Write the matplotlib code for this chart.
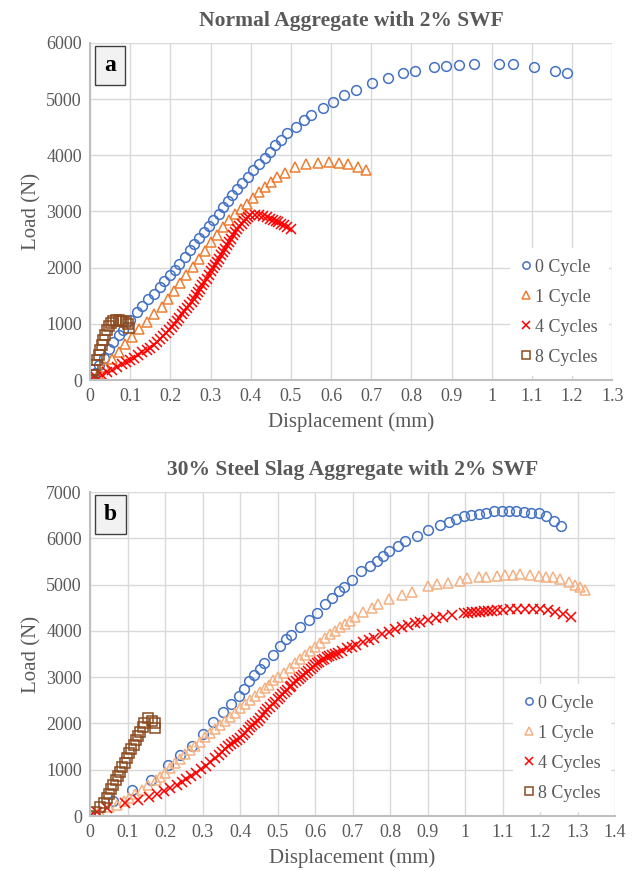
import matplotlib.pyplot as plt
import numpy as np

plt.rcParams["font.family"] = ["Liberation Serif", "DejaVu Serif"]

# ---------------- data: panel (a) Normal aggregate ----------------
a_x0 = [0, 0.012, 0.023, 0.035, 0.046, 0.058, 0.071, 0.083, 0.1, 0.116, 0.129, 0.145,
        0.158, 0.173, 0.185, 0.199, 0.212, 0.222, 0.237, 0.249, 0.259, 0.271, 0.284,
        0.296, 0.307, 0.320, 0.332, 0.343, 0.354, 0.365, 0.379, 0.392, 0.405, 0.421,
        0.436, 0.448, 0.461, 0.476, 0.490, 0.513, 0.533, 0.550, 0.579, 0.606, 0.631,
        0.662, 0.703, 0.741, 0.779, 0.809, 0.857, 0.886, 0.919, 0.956, 1.017, 1.054,
        1.106, 1.157, 1.187]
a_y0 = [0, 130, 260, 400, 560, 681, 800, 889, 1066, 1214, 1315, 1434, 1540, 1659, 1765,
        1866, 1967, 2073, 2192, 2310, 2429, 2536, 2636, 2737, 2855, 2962, 3081, 3187,
        3300, 3395, 3507, 3614, 3732, 3851, 3957, 4058, 4177, 4277, 4396, 4502, 4621,
        4722, 4840, 4950, 5065, 5168, 5283, 5376, 5471, 5494, 5565, 5589, 5607, 5625,
        5618, 5618, 5571, 5506, 5471]

a_x1 = [0, 0.02, 0.037, 0.055, 0.071, 0.088, 0.104, 0.122, 0.141, 0.16, 0.178, 0.195,
        0.21, 0.225, 0.24, 0.255, 0.27, 0.285, 0.30, 0.315, 0.33, 0.345, 0.36, 0.375,
        0.39, 0.405, 0.42, 0.435, 0.45, 0.465, 0.485, 0.51, 0.538, 0.568, 0.596, 0.621,
        0.643, 0.666, 0.686]
a_y1 = [0, 100, 237, 370, 503, 640, 769, 900, 1036, 1170, 1302, 1450, 1590, 1730, 1870,
        2010, 2150, 2300, 2450, 2580, 2720, 2850, 2960, 3040, 3140, 3240, 3340, 3430,
        3520, 3610, 3690, 3790, 3840, 3870, 3875, 3870, 3850, 3800, 3730]

a_x4 = [0, 0.015, 0.029, 0.042, 0.054, 0.067, 0.079, 0.09, 0.1, 0.11, 0.12, 0.13, 0.141,
        0.15, 0.158, 0.166, 0.174, 0.182, 0.189, 0.196, 0.203, 0.21, 0.216, 0.222,
        0.228, 0.235, 0.241, 0.247, 0.253, 0.259, 0.264, 0.269, 0.274, 0.279, 0.284,
        0.29, 0.295, 0.30, 0.305, 0.31, 0.315, 0.32, 0.325, 0.331, 0.336, 0.342, 0.347,
        0.352, 0.357, 0.362, 0.367, 0.372, 0.378, 0.383, 0.388, 0.393, 0.398, 0.41,
        0.421, 0.43, 0.44, 0.448, 0.455, 0.462, 0.469, 0.476, 0.483, 0.491, 0.5]
a_y4 = [0, 45, 89, 135, 178, 230, 278, 318, 355, 400, 444, 490, 533, 578, 622, 672, 723,
        776, 829, 888, 948, 1000, 1054, 1110, 1167, 1220, 1274, 1333, 1392, 1450, 1511,
        1570, 1629, 1690, 1748, 1807, 1866, 1934, 2002, 2052, 2103, 2162, 2222, 2281,
        2340, 2400, 2459, 2518, 2577, 2630, 2684, 2734, 2784, 2830, 2873, 2905, 2932,
        2940, 2932, 2920, 2903, 2875, 2844, 2830, 2814, 2785, 2755, 2725, 2695]

a_x8 = [0, 0.004, 0.008, 0.012, 0.017, 0.021, 0.025, 0.029, 0.033, 0.037, 0.042, 0.046,
        0.052, 0.058, 0.064, 0.071, 0.077, 0.083, 0.089, 0.095, 0.098]
a_y8 = [0, 89, 178, 266, 355, 444, 533, 622, 710, 799, 888, 959, 1018, 1045, 1060, 1066,
        1058, 1045, 1025, 990, 930]

# ---------------- data: panel (b) 30% steel slag ----------------
b_x0 = [0, 0.06, 0.111, 0.162, 0.209, 0.240, 0.273, 0.300, 0.327, 0.354, 0.376, 0.396,
        0.411, 0.425, 0.438, 0.452, 0.465, 0.487, 0.507, 0.522, 0.535, 0.560, 0.583,
        0.604, 0.627, 0.646, 0.664, 0.677, 0.698, 0.723, 0.747, 0.766, 0.782, 0.797,
        0.820, 0.840, 0.871, 0.902, 0.932, 0.956, 0.976, 0.996, 1.015, 1.036, 1.056,
        1.077, 1.098, 1.117, 1.136, 1.156, 1.176, 1.196, 1.216, 1.236, 1.255]
b_y0 = [0, 331, 562, 778, 1102, 1318, 1519, 1764, 2037, 2253, 2425, 2585, 2743, 2910,
        3045, 3168, 3297, 3477, 3672, 3816, 3909, 4075, 4233, 4392, 4572, 4716, 4852,
        4953, 5097, 5292, 5400, 5515, 5623, 5724, 5832, 5940, 6048, 6170, 6278, 6357,
        6415, 6480, 6512, 6526, 6555, 6588, 6594, 6588, 6580, 6573, 6551, 6537, 6480,
        6379, 6271]

b_x1 = [0, 0.025, 0.05, 0.071, 0.09, 0.105, 0.12, 0.138, 0.155, 0.175, 0.187, 0.2, 0.213,
        0.227, 0.24, 0.253, 0.267, 0.28, 0.293, 0.307, 0.32, 0.333, 0.347, 0.36, 0.373,
        0.387, 0.4, 0.413, 0.427, 0.44, 0.453, 0.467, 0.476, 0.489, 0.502, 0.516, 0.532,
        0.547, 0.56, 0.573, 0.587, 0.6, 0.613, 0.627, 0.64, 0.653, 0.667, 0.68, 0.693,
        0.707, 0.729, 0.751, 0.769, 0.797, 0.831, 0.858, 0.902, 0.926, 0.954, 0.987,
        1.006, 1.036, 1.056, 1.084, 1.107, 1.127, 1.147, 1.173, 1.196, 1.216, 1.234,
        1.253, 1.276, 1.293, 1.307, 1.320]
b_y1 = [0, 110, 190, 240, 320, 390, 480, 562, 660, 780, 850, 940, 1030, 1138, 1231, 1332,
        1425, 1512, 1605, 1699, 1785, 1872, 1965, 2052, 2131, 2217, 2325, 2419, 2505,
        2592, 2685, 2771, 2829, 2937, 3009, 3095, 3189, 3297, 3384, 3477, 3571, 3657,
        3744, 3837, 3924, 4003, 4075, 4147, 4219, 4291, 4400, 4495, 4585, 4680, 4773,
        4845, 4968, 5004, 5026, 5083, 5133, 5155, 5169, 5191, 5205, 5205, 5220, 5212,
        5191, 5169, 5155, 5112, 5062, 4989, 4953, 4881]

b_x4 = [0, 0.018, 0.044, 0.093, 0.129, 0.156, 0.178, 0.196, 0.213, 0.231, 0.244, 0.257,
        0.27, 0.283, 0.296, 0.309, 0.32, 0.333, 0.343, 0.351, 0.36, 0.369, 0.377, 0.385,
        0.392, 0.4, 0.407, 0.414, 0.42, 0.427, 0.433, 0.44, 0.447, 0.453, 0.46, 0.467,
        0.473, 0.48, 0.487, 0.493, 0.5, 0.507, 0.513, 0.52, 0.526, 0.532, 0.537, 0.542,
        0.549, 0.556, 0.562, 0.569, 0.575, 0.582, 0.588, 0.594, 0.599, 0.604, 0.611,
        0.618, 0.624, 0.631, 0.637, 0.644, 0.652, 0.66, 0.671, 0.686, 0.698, 0.709,
        0.729, 0.745, 0.757, 0.778, 0.796, 0.813, 0.831, 0.849, 0.867, 0.88, 0.902,
        0.922, 0.942, 0.964, 0.996, 1.007, 1.018, 1.029, 1.04, 1.051, 1.062, 1.073,
        1.084, 1.1, 1.12, 1.138, 1.16, 1.182, 1.2, 1.22, 1.24, 1.262, 1.282]
b_y4 = [0, 94, 166, 274, 346, 403, 475, 547, 610, 670, 742, 800, 870, 940, 1010, 1085,
        1160, 1260, 1325, 1390, 1450, 1510, 1555, 1600, 1645, 1690, 1740, 1790, 1850,
        1920, 1965, 2010, 2060, 2110, 2180, 2253, 2310, 2361, 2415, 2469, 2525, 2577,
        2630, 2685, 2730, 2779, 2820, 2865, 2910, 2952, 3000, 3045, 3092, 3139, 3182,
        3225, 3260, 3297, 3333, 3369, 3398, 3427, 3452, 3477, 3503, 3528, 3570, 3621,
        3657, 3693, 3765, 3800, 3837, 3931, 3981, 4032, 4089, 4125, 4161, 4197, 4233,
        4269, 4305, 4341, 4377, 4390, 4399, 4405, 4413, 4425, 4434, 4440, 4449, 4455,
        4464, 4471, 4471, 4471, 4464, 4449, 4413, 4363, 4305]

b_x8 = [0, 0.013, 0.027, 0.036, 0.044, 0.051, 0.056, 0.062, 0.068, 0.074, 0.08, 0.086,
        0.092, 0.098, 0.104, 0.109, 0.116, 0.122, 0.127, 0.133, 0.14, 0.145, 0.154,
        0.164, 0.172, 0.172]
b_y8 = [0, 94, 187, 274, 382, 475, 576, 670, 778, 864, 958, 1066, 1152, 1245, 1353, 1440,
        1533, 1641, 1728, 1821, 1929, 2015, 2109, 2059, 2002, 1893]

labels = ["0 Cycle", "1 Cycle", "4 Cycles", "8 Cycles"]

GREY = "#595959"
BLUE = "#4472C4"
RED = "#FF0000"
BROWN = "#8C4A1E"


def style_axes(ax, xmax, ymax, title, tag):
    ax.set_xlim(0, xmax)
    ax.set_ylim(0, ymax)
    ticks = np.round(np.arange(0, xmax + 0.001, 0.1), 1)
    ax.set_xticks(ticks)
    ax.set_xticklabels([f"{v:g}" for v in ticks])
    ax.set_yticks(np.arange(0, ymax + 1, 1000))
    ax.grid(True, color="#d9d9d9", linewidth=1.0)
    ax.set_axisbelow(True)
    for s in ["top", "right"]:
        ax.spines[s].set_visible(False)
    for s in ["left", "bottom"]:
        ax.spines[s].set_color("#bfbfbf")
        ax.spines[s].set_linewidth(1.5)
    ax.tick_params(length=0, labelsize=13, labelcolor=GREY, pad=6)
    ax.set_xlabel("Displacement (mm)", fontsize=15, color=GREY, labelpad=5)
    ax.set_ylabel("Load (N)", fontsize=15, color=GREY, labelpad=3)
    ax.set_title(title, fontsize=15.5, fontweight="bold", color=GREY, pad=12)
    ax.text(0.038, 0.932, tag, transform=ax.transAxes, ha="center", va="center",
            fontsize=17, fontweight="bold", color="black",
            bbox=dict(boxstyle="square,pad=0.38", facecolor="#f2f2f2",
                      edgecolor="#404040", linewidth=1.0))


def draw(ax, series, c_one):
    (x0, y0), (x1, y1), (x4, y4), (x8, y8) = series
    kw = dict(linestyle="none", markersize=7, markeredgewidth=1.1)
    ax.plot(x0, y0, marker="o", markerfacecolor="none", markeredgecolor=BLUE,
            label=labels[0], **kw)
    ax.plot(x1, y1, marker="^", markerfacecolor="none", markeredgecolor=c_one,
            label=labels[1], **kw)
    ax.plot(x4, y4, marker="x", color=RED, label=labels[2], **kw)
    ax.plot(x8, y8, marker="s", markerfacecolor="none", markeredgecolor=BROWN,
            label=labels[3], **kw)
    leg = ax.legend(loc="lower right", bbox_to_anchor=(1.0, 0.0), frameon=True,
                    facecolor="white", edgecolor="none", framealpha=1.0,
                    fontsize=13, labelspacing=0.72, handlelength=0.6,
                    handletextpad=0.2, borderpad=0.6, borderaxespad=0.2,
                    markerscale=0.75)
    for t in leg.get_texts():
        t.set_color(GREY)


fig = plt.figure(figsize=(6.39, 8.71), dpi=100)

ax_a = fig.add_axes([0.141, 0.5637, 0.817, 0.387])
draw(ax_a, [(a_x0, a_y0), (a_x1, a_y1), (a_x4, a_y4), (a_x8, a_y8)], "#ED7D31")
style_axes(ax_a, 1.3, 6000, "Normal Aggregate with 2% SWF", "a")

ax_b = fig.add_axes([0.141, 0.0631, 0.8216, 0.372])
draw(ax_b, [(b_x0, b_y0), (b_x1, b_y1), (b_x4, b_y4), (b_x8, b_y8)], "#F4B183")
style_axes(ax_b, 1.4, 7000, "30% Steel Slag Aggregate with 2% SWF", "b")

fig.savefig("out.png", dpi=100)
